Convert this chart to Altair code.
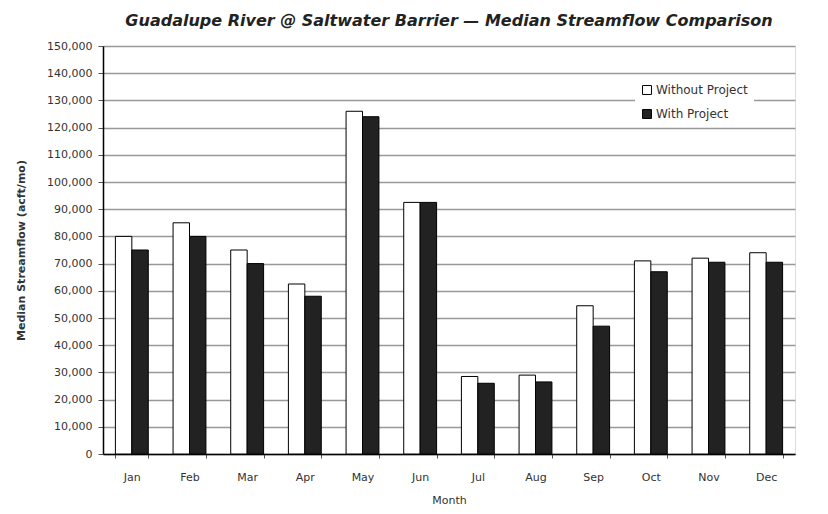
import altair as alt
import pandas as pd

months = ["Jan", "Feb", "Mar", "Apr", "May", "Jun", "Jul", "Aug", "Sep", "Oct", "Nov", "Dec"]
without_project = [80000, 85000, 75000, 62500, 126000, 92500, 28500, 29000, 54500, 71000, 72000, 74000]
with_project = [75000, 80000, 70000, 58000, 124000, 92500, 26000, 26500, 47000, 67000, 70500, 70500]
series = ["Without Project", "With Project"]
y_ticks = list(range(0, 150001, 10000))

rows = []
for m, a, b in zip(months, without_project, with_project):
    rows.append({"Month": m, "Series": series[0], "Value": a})
    rows.append({"Month": m, "Series": series[1], "Value": b})
df = pd.DataFrame(rows)

FONT = "DejaVu Sans"

chart = alt.Chart(df).mark_bar(stroke="black", strokeWidth=1).encode(
    x=alt.X("Month:N", sort=months, title="Month",
            scale=alt.Scale(paddingInner=0.43, paddingOuter=0.215),
            axis=alt.Axis(labelAngle=0, tickBand="extent", grid=False, labelPadding=13,
                          domainColor="black", domainWidth=1.5, tickColor="#555",
                          tickSize=4, labelFontSize=11, labelColor="#333",
                          titleFontSize=11, titleColor="#333", titleFontWeight="normal",
                          titlePadding=12, labelFont=FONT, titleFont=FONT)),
    xOffset=alt.XOffset("Series:N", sort=series, scale=alt.Scale(paddingInner=0, paddingOuter=0)),
    y=alt.Y("Value:Q", title="Median Streamflow (acft/mo)",
            scale=alt.Scale(domain=[0, 150000], nice=False),
            axis=alt.Axis(values=y_ticks, format=",.0f",
                          gridColor="#999", gridWidth=1.5, domainColor="black", domainWidth=1.5,
                          tickColor="#555", tickSize=5, labelPadding=6, labelFontSize=11,
                          labelColor="#333", titleFontSize=11, titleFontWeight="bold",
                          titleColor="#333", titlePadding=20, labelFont=FONT, titleFont=FONT)),
    fill=alt.Fill("Series:N", sort=series,
                  scale=alt.Scale(domain=series, range=["white", "#222222"]),
                  legend=alt.Legend(title=None, orient="none", legendX=532, legendY=32,
                                    fillColor="white", padding=6, symbolType="square",
                                    symbolSize=80, symbolStrokeColor="black", symbolStrokeWidth=1,
                                    labelFontSize=12, labelColor="#333", labelFont=FONT,
                                    rowPadding=10, labelOffset=3)),
).properties(
    width=692, height=408,
    autosize=alt.AutoSizeParams(type="none"),
    padding={"left": 95, "top": 38, "right": 17, "bottom": 58},
    title=alt.TitleParams("Guadalupe River @ Saltwater Barrier \u2014 Median Streamflow Comparison",
                          fontSize=16, fontStyle="italic", fontWeight="bold", font=FONT,
                          color="#222", offset=11, anchor="middle"),
).configure_view(stroke="black", strokeWidth=1.5).configure(background="white")

chart.save("out.html", embed_options={"renderer": "svg", "actions": False})
